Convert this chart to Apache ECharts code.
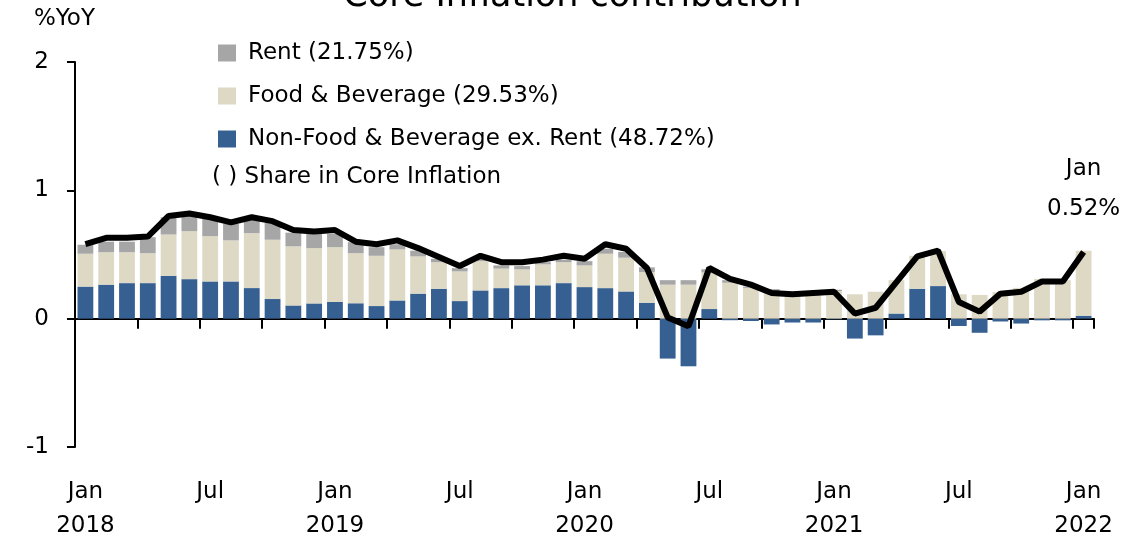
<!DOCTYPE html>
<html>
<head>
<meta charset="utf-8">
<script src="https://cdn.jsdelivr.net/npm/echarts@6/dist/echarts.min.js"></script>
<style>
  html, body { margin: 0; padding: 0; background: #fff; }
  #chart { width: 1145px; height: 535px; }
</style>
</head>
<body>
<div id="chart"></div>
<script>
// Months Jan 2018 .. Jan 2022
var monthNames = ['Jan','Feb','Mar','Apr','May','Jun','Jul','Aug','Sep','Oct','Nov','Dec'];
var years = [2018, 2019, 2020, 2021, 2022];
var categories = [];
years.forEach(function (y) {
  monthNames.forEach(function (m) {
    if (y < 2022 || m === 'Jan') categories.push(m + ' ' + y);
  });
});

// Contributions (%YoY)
var nonFood = [
  0.250, 0.265, 0.277, 0.277, 0.334, 0.308, 0.290, 0.290, 0.238, 0.153, 0.103, 0.119,
  0.130, 0.120, 0.098, 0.142, 0.195, 0.233, 0.137, 0.220, 0.238, 0.260, 0.260, 0.277,
  0.246, 0.238, 0.212, 0.124, -0.311, -0.371, 0.075, -0.012, -0.018, -0.045, -0.030, -0.030,
  -0.005, -0.155, -0.130, 0.040, 0.233, 0.254, -0.057, -0.110, -0.022, -0.038, -0.013, -0.013,
  0.023
];
var food = [
  0.256, 0.253, 0.241, 0.233, 0.322, 0.374, 0.353, 0.320, 0.428, 0.462, 0.460, 0.431,
  0.427, 0.390, 0.392, 0.398, 0.290, 0.207, 0.231, 0.228, 0.152, 0.124, 0.163, 0.163,
  0.169, 0.268, 0.263, 0.239, 0.265, 0.265, 0.285, 0.280, 0.240, 0.210, 0.200, 0.200,
  0.215, 0.190, 0.210, 0.260, 0.257, 0.272, 0.190, 0.185, 0.207, 0.240, 0.310, 0.300,
  0.507
];
var rent = [
  0.070, 0.082, 0.082, 0.125, 0.134, 0.128, 0.135, 0.130, 0.112, 0.135, 0.107, 0.110,
  0.103, 0.086, 0.067, 0.040, 0.045, 0.027, 0.026, 0.022, 0.025, 0.026, 0.017, 0.020,
  0.033, 0.039, 0.045, 0.037, 0.035, 0.035, 0.025, 0.020, 0.010, 0.020, 0.010, 0.015,
  0.010, 0, 0, 0, 0, 0, 0, 0, 0, 0, 0, 0,
  0
];
var coreInflation = [
  0.58, 0.63, 0.63, 0.64, 0.80, 0.82, 0.79, 0.75, 0.79, 0.76, 0.69, 0.68,
  0.69, 0.60, 0.58, 0.61, 0.55, 0.48, 0.41, 0.49, 0.44, 0.44, 0.46, 0.49,
  0.467, 0.58, 0.545, 0.395, 0.01, -0.06, 0.395, 0.31, 0.265, 0.20, 0.19, 0.20,
  0.21, 0.04, 0.085, 0.285, 0.485, 0.53, 0.13, 0.055, 0.195, 0.21, 0.29, 0.29,
  0.52
];
var yTicks = [-1, 0, 1, 2];
var seriesNames = ['Rent (21.75%)', 'Food & Beverage (29.53%)', 'Non-Food & Beverage ex. Rent (48.72%)'];

var FONT = 'DejaVu Sans';
var FS = 23;
var last = coreInflation.length - 1;
var tickIdx = [];
for (var k = 0; k < categories.length; k += 3) tickIdx.push(k);
var chart = echarts.init(document.getElementById('chart'), null, { renderer: 'canvas' });

var option = {
  animation: false,
  textStyle: { fontFamily: FONT, color: '#000' },
  title: {
    text: 'Core Inflation contribution',
    left: 'center',
    top: -26,
    textStyle: { fontFamily: FONT, fontSize: 35, fontWeight: 'normal', color: '#000' }
  },
  legend: {
    data: seriesNames,
    orient: 'vertical',
    left: 213,
    top: 35,
    icon: 'rect',
    itemWidth: 18,
    itemHeight: 17,
    itemGap: 17,
    textStyle: { fontFamily: FONT, fontSize: FS, color: '#000', lineHeight: 26, padding: [0, 0, 0, 7] }
  },
  graphic: [
    { type: 'text', left: 212, top: 166,
      style: { text: '( ) Share in Core Inflation', font: FS + 'px "DejaVu Sans"', fill: '#000' } },
    { type: 'text', left: 34, top: 8,
      style: { text: '%YoY', font: FS + 'px "DejaVu Sans"', fill: '#000' } }
  ],
  grid: { left: 75, right: 51, top: 62, bottom: 88, outerBoundsMode: 'none', containLabel: false },
  xAxis: [
    {
      type: 'category',
      data: categories,
      boundaryGap: true,
      axisLine: { onZero: true, lineStyle: { color: '#000', width: 2 } },
      axisTick: { show: true, customValues: tickIdx, length: 10, lineStyle: { color: '#000', width: 2 } },
      axisLabel: { show: false },
      splitLine: { show: false }
    },
    {
      type: 'category',
      data: categories,
      position: 'bottom',
      boundaryGap: true,
      axisLine: { show: false, onZero: false },
      axisTick: { show: false },
      axisLabel: {
        interval: 5,
        margin: 28,
        fontFamily: FONT,
        fontSize: FS,
        lineHeight: 34,
        color: '#000',
        formatter: function (v) {
          var p = v.split(' ');
          return p[0] === 'Jan' ? 'Jan\n' + p[1] : p[0];
        }
      }
    }
  ],
  yAxis: {
    type: 'value',
    min: -1,
    max: 2,
    interval: 1,
    axisLine: { show: true, lineStyle: { color: '#000', width: 2 } },
    axisTick: { show: true, length: 8, lineStyle: { color: '#000', width: 2 } },
    axisLabel: { margin: 26, fontFamily: FONT, fontSize: FS, color: '#000',
      formatter: function (v) { return yTicks.indexOf(v) >= 0 ? String(v) : ''; } },
    splitLine: { show: false }
  },
  series: [
    {
      name: seriesNames[2], type: 'bar', stack: 'c', xAxisIndex: 0,
      barCategoryGap: '24%',
      itemStyle: { color: '#366092' },
      data: nonFood
    },
    {
      name: seriesNames[1], type: 'bar', stack: 'c', xAxisIndex: 0,
      itemStyle: { color: '#DDD9C4' },
      data: food
    },
    {
      name: seriesNames[0], type: 'bar', stack: 'c', xAxisIndex: 0,
      itemStyle: { color: '#A6A6A6' },
      data: rent
    },
    {
      name: 'Core Inflation', type: 'line', xAxisIndex: 0,
      symbol: 'none', smooth: false,
      lineStyle: { color: '#000', width: 6 },
      z: 5,
      data: coreInflation,
      markPoint: {
        symbol: 'circle',
        symbolSize: 2,
        silent: true,
        itemStyle: { color: 'rgba(0,0,0,0)' },
        label: {
          show: true, position: 'top', distance: 22,
          fontFamily: FONT, fontSize: FS, lineHeight: 40, color: '#000',
          formatter: function (p) { return categories[last].split(' ')[0] + '\n' + coreInflation[last].toFixed(2) + '%'; }
        },
        data: [{
          coord: [last, coreInflation[last]],
          value: coreInflation[last]
        }]
      }
    }
  ]
};
chart.setOption(option);
</script>
</body>
</html>
